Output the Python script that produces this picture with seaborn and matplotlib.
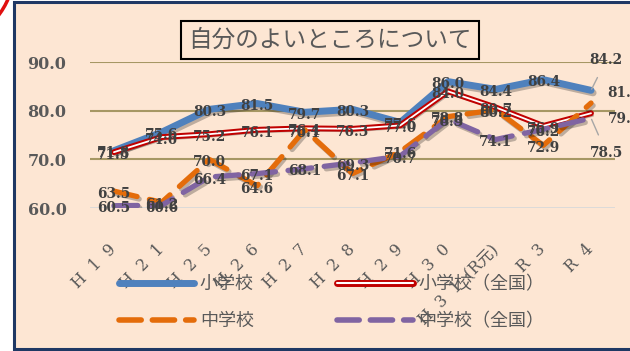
import pandas as pd
import seaborn as sns
import matplotlib.pyplot as plt
import matplotlib.patheffects as pe
from matplotlib.lines import Line2D
from matplotlib.patches import Rectangle, Arc
from matplotlib.transforms import IdentityTransform

years = ['H19', 'H21', 'H25', 'H26', 'H27', 'H28', 'H29', 'H30', 'H31', 'R3', 'R4']
tick_labels = ['H  1  9', 'H  2  1', 'H  2  5', 'H  2  6', 'H  2  7', 'H  2  8',
               'H  2  9', 'H  3  0', 'H  3  1  (R元)', 'R  3', 'R  4']
elem = [71.8, 75.6, 80.3, 81.5, 79.7, 80.3, 77.6, 86.0, 84.4, 86.4, 84.2]
elem_nat = [71.5, 74.6, 75.2, 76.1, 76.4, 76.3, 77.0, 84.0, 80.7, 76.9, 79.5]
jhs = [63.5, 61.2, 70.0, 64.6, 76.1, 67.1, 71.6, 78.8, 80.2, 72.9, 81.6]
jhs_nat = [60.5, 60.6, 66.4, 67.1, 68.1, 69.3, 70.7, 78.3, 74.1, 76.2, 78.5]
names = ['小学校', '小学校（全国）', '中学校', '中学校（全国）']

df = pd.DataFrame({'year': years, names[0]: elem, names[1]: elem_nat,
                   names[2]: jhs, names[3]: jhs_nat})

sns.set_style('white')
plt.rcParams['font.family'] = ['DejaVu Serif', 'Noto Sans CJK JP']

BG = '#FDE6D3'
GRAY = '#595959'
BLUE, RED, ORANGE, PURPLE = '#4F81BD', '#C00000', '#E46C0A', '#8064A2'

fig = plt.figure(figsize=(6.3, 3.51), dpi=100, facecolor='white')
fig.patches.append(Rectangle((14, 2), 640, 347, transform=IdentityTransform(),
                             facecolor=BG, edgecolor='#1F3864', lw=2.2, zorder=-10))
fig.patches.append(Arc((-60, 381), 148, 148, theta1=-52, theta2=-18,
                       transform=IdentityTransform(), color='#E01010', lw=2.5, zorder=-9))

ax = fig.add_axes([0.143, 0.407, 0.833, 0.416])
ax.set_facecolor('none')

shadow = pe.SimpleLineShadow(offset=(1.5, -1.8), shadow_color='k', alpha=0.25)

sns.lineplot(data=df, x='year', y=names[0], ax=ax, color=BLUE, lw=5, sort=False,
             solid_capstyle='round', path_effects=[shadow, pe.Normal()], zorder=3)
sns.lineplot(data=df, x='year', y=names[1], ax=ax, color='white', lw=1.3, sort=False,
             path_effects=[shadow, pe.Stroke(linewidth=4.2, foreground=RED), pe.Normal()],
             zorder=4)
sns.lineplot(data=df, x='year', y=names[2], ax=ax, color=ORANGE, lw=3.8, sort=False,
             path_effects=[shadow, pe.Normal()], zorder=5)
ax.lines[-1].set_dashes((4.5, 2.4))
ax.lines[-1].set_dash_capstyle('round')
sns.lineplot(data=df, x='year', y=names[3], ax=ax, color=PURPLE, lw=3.8, sort=False,
             path_effects=[shadow, pe.Normal()], zorder=6)
ax.lines[-1].set_dashes((4.5, 2.4))
ax.lines[-1].set_dash_capstyle('round')

ax.set_xlim(-0.5, 10.5)
ax.set_ylim(60, 90)
ax.set_yticks([60, 70, 80, 90])
ax.set_yticklabels([f'{v:.1f}' for v in [60, 70, 80, 90]])
ax.set_xticks(range(len(years)))
ax.set_xticklabels(tick_labels, rotation=45, ha='right', va='center',
                   rotation_mode='anchor', fontsize=11.5, color=GRAY)
ax.tick_params(axis='y', length=0, pad=17, labelsize=11.5, labelcolor=GRAY)
ax.tick_params(axis='x', length=0, pad=28)
for t in ax.get_yticklabels():
    t.set_fontweight('bold')
ax.set_xlabel('')
ax.set_ylabel('')
for s in ax.spines.values():
    s.set_visible(False)
for v in [70, 80, 90]:
    ax.axhline(v, color='#A69764', lw=1.5, zorder=1)
ax.axhline(60, color='#D9D9D9', lw=2, zorder=1)

# data labels
lab_kw = dict(ha='center', va='center', fontsize=9.8, fontweight='bold',
              color='#404040', zorder=10, annotation_clip=False)
for vals in [elem, elem_nat, jhs, jhs_nat]:
    for i, v in enumerate(vals[:-1]):
        ax.annotate(f'{v:.1f}', (i, v), xytext=(0, -2), textcoords='offset points', **lab_kw)

last = len(years) - 1
ax.annotate(f'{elem[-1]:.1f}', (last, elem[-1]), xytext=(11, 22), textcoords='offset points',
            arrowprops=dict(arrowstyle='-', color='#A6A6A6', lw=1, shrinkA=6, shrinkB=1), **lab_kw)
ax.annotate(f'{jhs[-1]:.1f}', (last, jhs[-1]), xytext=(12, 7), textcoords='offset points',
            ha='left', va='center', fontsize=9.8, fontweight='bold', color='#404040',
            zorder=10, annotation_clip=False)
ax.annotate(f'{elem_nat[-1]:.1f}', (last, elem_nat[-1]), xytext=(12, -4), textcoords='offset points',
            ha='left', va='center', fontsize=9.8, fontweight='bold', color='#404040',
            zorder=10, annotation_clip=False)
ax.annotate(f'{jhs_nat[-1]:.1f}', (last, jhs_nat[-1]), xytext=(11, -25), textcoords='offset points',
            arrowprops=dict(arrowstyle='-', color='#A6A6A6', lw=1, shrinkA=6, shrinkB=1), **lab_kw)

fig.text(0.524, 0.886, '自分のよいところについて', ha='center', va='center', fontsize=17,
         color=GRAY, family=['Noto Sans CJK JP'],
         bbox=dict(boxstyle='square,pad=0.32', facecolor='none', edgecolor='black', lw=1.5))

h_blue = Line2D([], [], color=BLUE, lw=5, solid_capstyle='round')
h_red = Line2D([], [], color='white', lw=1.5,
               path_effects=[pe.Stroke(linewidth=5, foreground=RED), pe.Normal()])
h_orange = Line2D([], [], color=ORANGE, lw=4, dashes=(4, 2), dash_capstyle='round')
h_purple = Line2D([], [], color=PURPLE, lw=4, dashes=(4, 2), dash_capstyle='round')
leg = fig.legend([h_blue, h_orange, h_red, h_purple],
                 [names[0], names[2], names[1], names[3]],
                 ncol=2, loc='center', bbox_to_anchor=(0.526, 0.138),
                 frameon=False, handlelength=4.2, handletextpad=0.3, columnspacing=4.6,
                 labelspacing=1.05, prop={'family': 'Noto Sans CJK JP', 'size': 13})
for t in leg.get_texts():
    t.set_color(GRAY)

fig.savefig('out.png', dpi=100, facecolor='white')
